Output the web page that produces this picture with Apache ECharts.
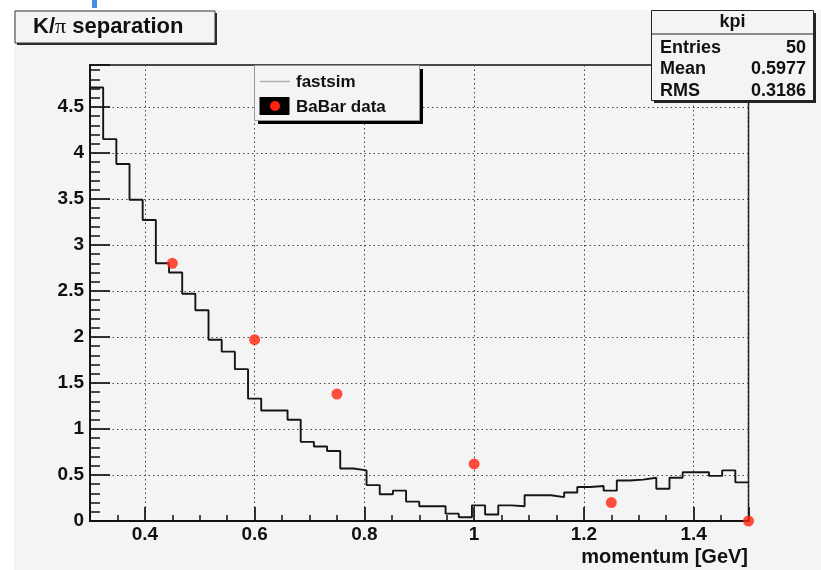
<!DOCTYPE html>
<html>
<head>
<meta charset="utf-8">
<title>K/π separation</title>
<script src="https://cdn.jsdelivr.net/npm/echarts@6/dist/echarts.min.js"></script>
<style>
  html, body { margin: 0; padding: 0; background: #ffffff; }
  #chart { width: 821px; height: 570px; }
</style>
</head>
<body>
<div id="chart"></div>
<script>
// Histogram "kpi": 50 equal bins between histLow and histHigh (GeV)
const histLow = 0.3;
const histHigh = 1.5;
const binContents = [
  4.71, 4.15, 3.88, 3.49, 3.27, 2.80, 2.70, 2.47, 2.29, 1.97,
  1.84, 1.65, 1.33, 1.20, 1.20, 1.10, 0.86, 0.81, 0.76, 0.57,
  0.55, 0.39, 0.29, 0.33, 0.21, 0.16, 0.16, 0.08, 0.04, 0.17,
  0.07, 0.17, 0.16, 0.28, 0.28, 0.26, 0.31, 0.37, 0.38, 0.33,
  0.44, 0.45, 0.47, 0.35, 0.47, 0.53, 0.53, 0.49, 0.55, 0.42
];

// BaBar measurements
const babarMomentum = [0.45, 0.6, 0.75, 1.0, 1.25, 1.5];
const babarSeparation = [2.80, 1.97, 1.38, 0.62, 0.20, 0.0];

// Axis ranges
const yMax = 4.955;
const yStep = 0.5;

// Statistics box
const statsTitle = 'kpi';
const statsNames = ['Entries', 'Mean', 'RMS'];
const statsValues = ['50', '0.5977', '0.3186'];

// Legend entries
const legendNames = ['fastsim', 'BaBar data'];

// ---- build series data ----
const binWidth = (histHigh - histLow) / binContents.length;
const stepPoints = binContents.map((v, i) => [histLow + i * binWidth, v]);
stepPoints.push([histHigh, binContents[binContents.length - 1]]);
const babarPoints = babarMomentum.map((x, i) => [x, babarSeparation[i]]);

const canvasFill = '#f4f4f4';
const ink = '#111111';
const font = '"Liberation Sans", Arial, Helvetica, sans-serif';
const markerRed = '#ff2410';

const statsRowsY = [48, 69.5, 91];
const statsGraphics = [];
statsNames.forEach((n, i) => {
  statsGraphics.push({
    type: 'text', x: 660, y: statsRowsY[i], z: 32,
    style: { text: n, fill: ink, font: 'bold 18px ' + font, verticalAlign: 'middle', align: 'left' }
  });
  statsGraphics.push({
    type: 'text', x: 806, y: statsRowsY[i], z: 32,
    style: { text: statsValues[i], fill: ink, font: 'bold 18px ' + font, verticalAlign: 'middle', align: 'right' }
  });
});

const chart = echarts.init(document.getElementById('chart'), null, { renderer: 'canvas' });

chart.setOption({
  animation: false,
  backgroundColor: '#ffffff',
  grid: {
    left: 90, right: 72.5, top: 65, bottom: 49,
    show: true, borderColor: ink, borderWidth: 1.5, backgroundColor: 'transparent'
  },
  xAxis: {
    type: 'value',
    min: histLow,
    max: histHigh,
    splitNumber: 5,
    axisLine: { show: true, onZero: false, lineStyle: { color: ink, width: 1.8 } },
    axisTick: { show: true, inside: true, length: 14, lineStyle: { color: ink, width: 1.7 } },
    minorTick: { show: true, splitNumber: 4, length: 6, lineStyle: { color: ink, width: 1.5 } },
    axisLabel: {
      showMinLabel: false, showMaxLabel: false, margin: 4,
      color: ink, fontSize: 19, fontWeight: 'bold', fontFamily: font
    },
    splitLine: { show: true, lineStyle: { color: '#444', width: 1, type: [1.5, 3] } },
    minorSplitLine: { show: false }
  },
  yAxis: {
    type: 'value',
    min: 0,
    max: yMax,
    interval: yStep,
    axisLine: { show: true, onZero: false, lineStyle: { color: ink, width: 1.8 } },
    axisTick: { show: true, inside: true, length: 20, lineStyle: { color: ink, width: 1.7 } },
    minorTick: { show: true, splitNumber: 5, length: 10, lineStyle: { color: ink, width: 1.5 } },
    axisLabel: {
      showMaxLabel: false, margin: 6,
      color: ink, fontSize: 19, fontWeight: 'bold', fontFamily: font
    },
    splitLine: { show: true, lineStyle: { color: '#444', width: 1, type: [1.5, 3] } }
  },
  series: [
    {
      name: legendNames[0],
      type: 'line',
      step: 'end',
      data: stepPoints,
      symbol: 'none',
      lineStyle: { color: '#151515', width: 1.9 },
      z: 3
    },
    {
      name: legendNames[1],
      type: 'scatter',
      data: babarPoints,
      symbol: 'circle',
      symbolSize: 11,
      clip: false,
      itemStyle: { color: markerRed },
      z: 5
    }
  ],
  graphic: [
    // canvas background
    { type: 'rect', z: -100, silent: true, shape: { x: 14, y: 10, width: 807, height: 560 }, style: { fill: canvasFill } },
    { type: 'rect', z: -99, silent: true, shape: { x: 92, y: 0, width: 5, height: 8 }, style: { fill: '#3f8fe6' } },

    // title pave
    { type: 'rect', z: 20, shape: { x: 17, y: 13, width: 200, height: 32 }, style: { fill: '#2a2a2a' } },
    { type: 'rect', z: 21, shape: { x: 15, y: 11, width: 200, height: 32 }, style: { fill: canvasFill, stroke: '#333', lineWidth: 1 } },
    {
      type: 'text', z: 22, x: 33, y: 27,
      style: {
        text: '{a|K/}{p|π}{a| separation}',
        verticalAlign: 'middle', align: 'left',
        rich: {
          a: { fontFamily: font, fontWeight: 'bold', fontSize: 22, fill: ink, color: ink },
          p: { fontFamily: '"Liberation Serif", "DejaVu Serif", serif', fontSize: 22, fill: ink, color: ink }
        }
      }
    },

    // statistics box
    { type: 'rect', z: 30, shape: { x: 654, y: 13, width: 162, height: 90 }, style: { fill: '#222' } },
    { type: 'rect', z: 31, shape: { x: 651.5, y: 10.5, width: 162, height: 90 }, style: { fill: canvasFill, stroke: '#222', lineWidth: 1 } },
    { type: 'line', z: 32, shape: { x1: 651.5, y1: 34, x2: 813.5, y2: 34 }, style: { stroke: '#222', lineWidth: 1 } },
    {
      type: 'text', z: 32, x: 732.5, y: 22,
      style: { text: statsTitle, fill: ink, font: 'bold 18px ' + font, verticalAlign: 'middle', align: 'center' }
    },
    ...statsGraphics,

    // legend box
    { type: 'rect', z: 40, shape: { x: 258, y: 69, width: 165, height: 55 }, style: { fill: '#000' } },
    { type: 'rect', z: 41, shape: { x: 254.5, y: 65.5, width: 165, height: 55 }, style: { fill: canvasFill, stroke: '#999', lineWidth: 1 } },
    { type: 'line', z: 42, shape: { x1: 260, y1: 81.5, x2: 290, y2: 81.5 }, style: { stroke: '#b0b0b0', lineWidth: 1.5 } },
    {
      type: 'text', z: 42, x: 296, y: 82,
      style: { text: legendNames[0], fill: ink, font: 'bold 17px ' + font, verticalAlign: 'middle', align: 'left' }
    },
    { type: 'rect', z: 42, shape: { x: 259.5, y: 97, width: 30, height: 18 }, style: { fill: '#000' } },
    { type: 'circle', z: 43, shape: { cx: 275, cy: 106, r: 5 }, style: { fill: markerRed } },
    {
      type: 'text', z: 42, x: 296, y: 107,
      style: { text: legendNames[1], fill: ink, font: 'bold 17px ' + font, verticalAlign: 'middle', align: 'left' }
    },

    // x axis title
    {
      type: 'text', z: 10, x: 748, y: 557,
      style: { text: 'momentum [GeV]', fill: ink, font: 'bold 20px ' + font, verticalAlign: 'middle', align: 'right' }
    }
  ]
});
</script>
</body>
</html>
